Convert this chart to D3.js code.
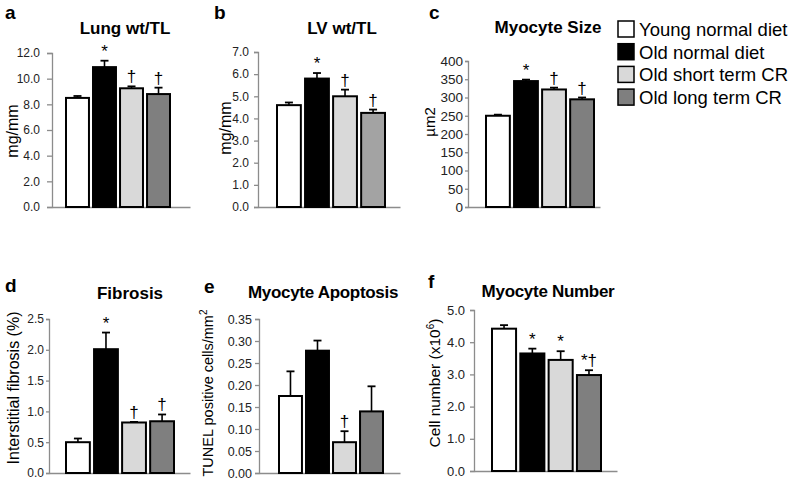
<!DOCTYPE html>
<html><head><meta charset="utf-8">
<script src="https://cdn.jsdelivr.net/npm/d3@7"></script>
<style>
body{margin:0;background:#fff;}
text{font-family:Arial,"Liberation Sans",sans-serif;}
</style></head>
<body><svg id="c" width="798" height="480"></svg>
<script>
// ---- data ----
const groups = ["Young normal diet","Old normal diet","Old short term CR","Old long term CR"];

const lungVals = [8.5, 10.9, 9.25, 8.8];
const lungErr  = [0.15, 0.5, 0.15, 0.5];
const lungSig  = ["", "*", "†", "†"];
const lungTicks = [0, 2, 4, 6, 8, 10, 12];

const lvVals = [4.6, 5.8, 5.0, 4.25];
const lvErr  = [0.12, 0.25, 0.3, 0.15];
const lvSig  = ["", "*", "†", "†"];
const lvTicks = [0, 1, 2, 3, 4, 5, 6, 7];

const sizeVals = [250, 345, 322, 295];
const sizeErr  = [3, 4, 5, 5];
const sizeSig  = ["", "*", "†", "†"];
const sizeTicks = [0, 50, 100, 150, 200, 250, 300, 350, 400];

const fibVals = [0.5, 2.01, 0.82, 0.84];
const fibErr  = [0.06, 0.27, 0.01, 0.11];
const fibSig  = ["", "*", "†", "†"];
const fibTicks = [0, 0.5, 1.0, 1.5, 2.0, 2.5];

const apoVals = [0.175, 0.278, 0.07, 0.14];
const apoErr  = [0.056, 0.023, 0.025, 0.057];
const apoSig  = ["", "", "†", ""];
const apoTicks = [0, 0.05, 0.10, 0.15, 0.20, 0.25, 0.30, 0.35];

const numVals = [4.42, 3.65, 3.45, 2.98];
const numErr  = [0.11, 0.15, 0.27, 0.15];
const numSig  = ["", "*", "*", "*†"];
const numTicks = [0, 1, 2, 3, 4, 5];

// ---- styles / layout ----
const fills = ["#ffffff", "#000000", "#d9d9d9", "#7f7f7f"];
const svg = d3.select("#c");
const FONT = "Arial, 'Liberation Sans', sans-serif";

const panels = [
  {letter:"a", lx:5, ly:19, title:"Lung wt/TL", tx:125, ty:34, ylab:"mg/mm", ylx:18, yly:131, ylfs:16,
   vals:lungVals, err:lungErr, sig:lungSig, ticks:lungTicks, fmt:d3.format(".1f"), tfs:12, tsz:5, tpad:7,
   ax0:52, ax1:190, b0:66, b1:170, yTop:53, yBot:207},
  {letter:"b", lx:214, ly:19, title:"LV wt/TL", tx:342, ty:34, ylab:"mg/mm", ylx:231, yly:128, ylfs:16,
   vals:lvVals, err:lvErr, sig:lvSig, ticks:lvTicks, fmt:d3.format(".1f"), tfs:12, tsz:4, tpad:5,
   ax0:258, ax1:400, b0:277, b1:385, yTop:52, yBot:207, fill4:"#a3a3a3"},
  {letter:"c", lx:429, ly:19, title:"Myocyte Size", tx:548, ty:33, ylab:"µm2", ylx:435, yly:122, ylfs:15,
   vals:sizeVals, err:sizeErr, sig:sizeSig, ticks:sizeTicks, fmt:d3.format("d"), tfs:13.5, tsz:3, tpad:2,
   ax0:468, ax1:600, b0:486, b1:594, yTop:61, yBot:207},
  {letter:"d", lx:5, ly:292, title:"Fibrosis", tx:130, ty:299, ylab:"Interstitial fibrosis (%)", ylx:19, yly:388, ylfs:16,
   vals:fibVals, err:fibErr, sig:fibSig, ticks:fibTicks, fmt:d3.format(".1f"), tfs:12, tsz:3, tpad:2,
   ax0:49, ax1:190, b0:66, b1:174, yTop:319, yBot:473},
  {letter:"e", lx:204, ly:293, title:"Myocyte Apoptosis", tx:323, ty:298, ylab:"TUNEL positive cells/mm", sup:"2", ylx:213, yly:393, ylfs:14.5,
   vals:apoVals, err:apoErr, sig:apoSig, ticks:apoTicks, fmt:d3.format(".2f"), tfs:12.5, tsz:4, tpad:3,
   ax0:259, ax1:400, b0:279, b1:383, yTop:319, yBot:473},
  {letter:"f", lx:428, ly:288, title:"Myocyte Number", tx:548, ty:297, ylab:"Cell number (x10", sup:"6", ylab2:")", ylx:440, yly:383, ylfs:15.5,
   vals:numVals, err:numErr, sig:numSig, ticks:numTicks, fmt:d3.format(".1f"), tfs:13, tsz:4, tpad:5,
   ax0:474, ax1:617, b0:492, b1:601, yTop:310, yBot:471}
];

panels.forEach(p => {
  const g = svg.append("g");
  const y = d3.scaleLinear().domain([p.ticks[0], p.ticks[p.ticks.length-1]]).range([p.yBot, p.yTop]);
  const x = d3.scaleBand().domain(groups).range([p.b0, p.b1]).paddingInner(0.15).paddingOuter(0);

  // y axis
  const ya = g.append("g").attr("transform", `translate(${p.ax0},0)`)
    .call(d3.axisLeft(y).tickValues(p.ticks).tickFormat(p.fmt).tickSize(p.tsz).tickPadding(p.tpad));
  ya.select(".domain").attr("stroke", "#8c8c8c").attr("stroke-width", 1.3);
  ya.selectAll(".tick line").attr("stroke", "#8c8c8c").attr("stroke-width", 1.3);
  ya.selectAll(".tick text").attr("font-size", p.tfs).attr("fill", "#222").attr("font-family", FONT);

  // x axis line
  const xa = g.append("g").attr("transform", `translate(0,${p.yBot})`)
    .call(d3.axisBottom(d3.scaleLinear().range([p.ax0, p.ax1])).ticks(0).tickSizeOuter(0));
  xa.select(".domain").attr("stroke", "#8c8c8c").attr("stroke-width", 1.5);

  const data = groups.map((k, i) => ({k, i, v:p.vals[i], e:p.err[i], s:p.sig[i]}));

  // error bars
  const eg = g.selectAll(".eb").data(data).enter().append("g");
  eg.append("line")
    .attr("x1", d => x(d.k) + x.bandwidth()/2).attr("x2", d => x(d.k) + x.bandwidth()/2)
    .attr("y1", d => y(d.v)).attr("y2", d => y(d.v + d.e))
    .attr("stroke", "#000").attr("stroke-width", 1.6);
  eg.append("line")
    .attr("x1", d => x(d.k) + x.bandwidth()/2 - 4).attr("x2", d => x(d.k) + x.bandwidth()/2 + 4)
    .attr("y1", d => y(d.v + d.e)).attr("y2", d => y(d.v + d.e))
    .attr("stroke", "#000").attr("stroke-width", 1.8);

  // bars
  g.selectAll(".bar").data(data).enter().append("rect")
    .attr("x", d => x(d.k)).attr("width", x.bandwidth())
    .attr("y", d => y(d.v)).attr("height", d => y(0) - y(d.v))
    .attr("fill", d => (d.i === 3 && p.fill4) ? p.fill4 : fills[d.i])
    .attr("stroke", "#000").attr("stroke-width", 2);

  // significance marks
  g.selectAll(".sig").data(data.filter(d => d.s)).enter().append("text")
    .attr("x", d => x(d.k) + x.bandwidth()/2)
    .attr("y", d => y(d.v + d.e) - 4)
    .attr("text-anchor", "middle").attr("font-size", 17).attr("fill", "#000")
    .attr("font-family", "'DejaVu Sans', Arial, sans-serif")
    .text(d => d.s);

  // panel letter
  g.append("text").attr("x", p.lx).attr("y", p.ly).attr("font-size", 19).attr("font-weight", "bold")
    .attr("font-family", FONT).text(p.letter);
  // title
  g.append("text").attr("x", p.tx).attr("y", p.ty).attr("text-anchor", "middle")
    .attr("font-size", 17).attr("font-weight", "bold").attr("font-family", FONT)
    .attr("letter-spacing", p.letter === "e" || p.letter === "f" ? -0.3 : 0)
    .text(p.title);
  // y label
  const yl = g.append("text").attr("transform", `translate(${p.ylx},${p.yly}) rotate(-90)`)
    .attr("text-anchor", "middle").attr("font-size", p.ylfs).attr("font-family", FONT);
  yl.append("tspan").text(p.ylab);
  if (p.sup) yl.append("tspan").attr("font-size", 10).attr("dy", -6).text(p.sup);
  if (p.ylab2) yl.append("tspan").attr("dy", 6).text(p.ylab2);
});

// legend
const lg = svg.append("g");
const ly0 = 29, lstep = 22.7;
groups.forEach((k, i) => {
  lg.append("rect").attr("x", 618).attr("y", ly0 + i*lstep - 8).attr("width", 16).attr("height", 16)
    .attr("fill", fills[i]).attr("stroke", "#000").attr("stroke-width", 1.5);
  lg.append("text").attr("x", 639).attr("y", ly0 + i*lstep + 7).attr("font-size", 18.5)
    .attr("font-family", FONT).text(k);
});
</script></body></html>
